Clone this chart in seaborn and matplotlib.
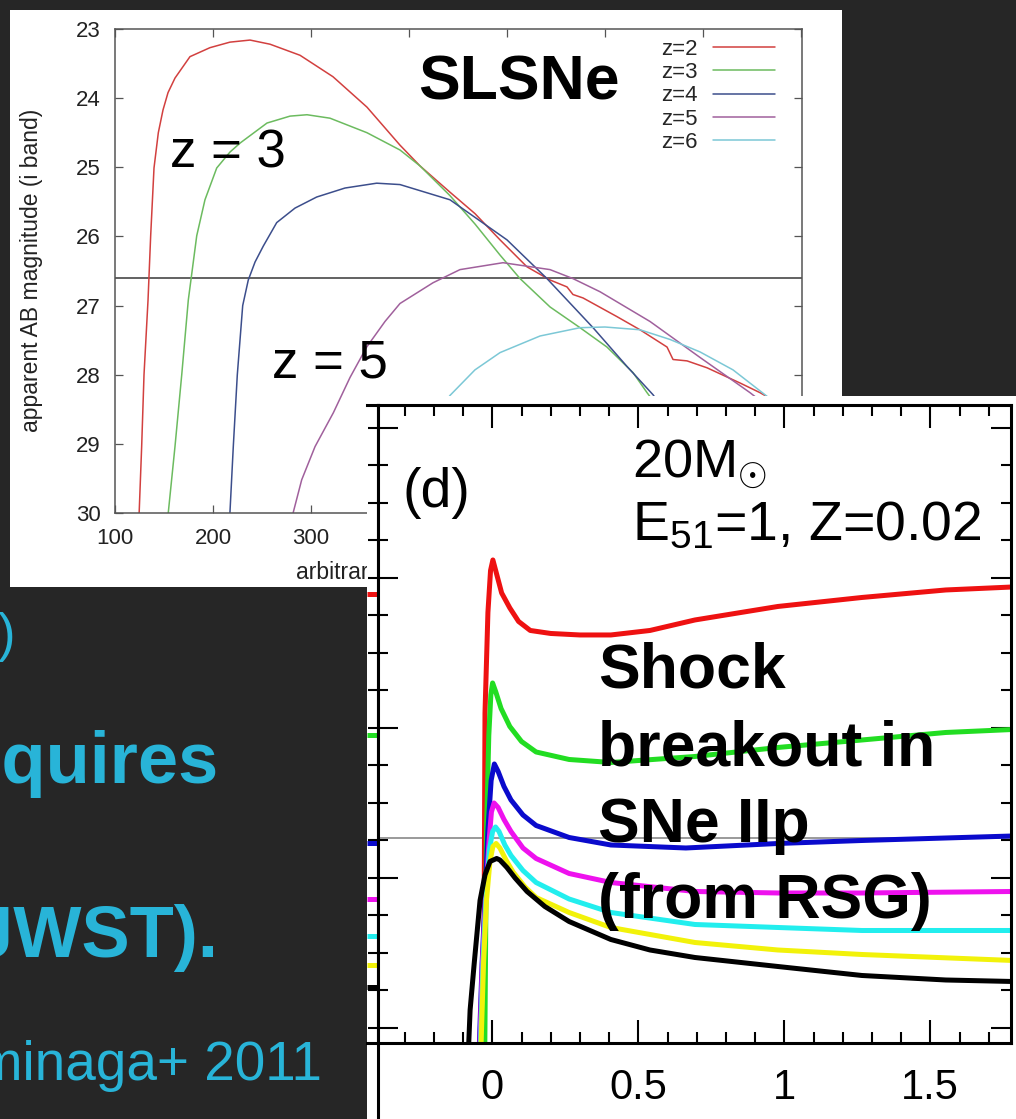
import matplotlib
matplotlib.use("Agg")
import matplotlib.pyplot as plt
from matplotlib.patches import Rectangle
from matplotlib.lines import Line2D
from matplotlib.ticker import MultipleLocator, FuncFormatter
import numpy as np
import pandas as pd
import seaborn as sns

sns.set_theme(style="white")
plt.rcParams["font.family"] = ["Liberation Sans", "DejaVu Sans"]
plt.rcParams["mathtext.fontset"] = "custom"
plt.rcParams["mathtext.rm"] = "Liberation Sans"
plt.rcParams["mathtext.it"] = "Liberation Sans:italic"
plt.rcParams["mathtext.bf"] = "Liberation Sans:bold"

W, H = 1016, 1119
BG = "#262626"
SLIDE_BLUE = "#28b4d8"

# ---------------- SLSN i-band light curves (apparent AB mag vs. time) -------
z_labels = ["z=2", "z=3", "z=4", "z=5", "z=6"]
z_colors = ["#d2403f", "#6cbb5f", "#3c4e8c", "#a0609c", "#7cc8d6"]

z2_t = [124.0, 127.2, 129.6, 133.7, 136.4, 139.8, 144.2, 149.0, 154.1, 161.2,
        176.5, 196.9, 217.3, 237.8, 258.2, 288.8, 322.4, 357.1, 390.8, 411.2,
        441.8, 467.3, 492.9, 520.4, 543.9, 561.2, 567.3, 577.6, 612.2, 635.7,
        663.3, 669.4, 683.7, 704.1, 737.8, 758.2, 788.8]
z2_mag = [30.24, 29.04, 28.00, 26.92, 25.99, 25.01, 24.50, 24.17, 23.92, 23.71,
          23.40, 23.27, 23.19, 23.16, 23.22, 23.38, 23.69, 24.13, 24.68, 24.98,
          25.36, 25.67, 26.05, 26.44, 26.63, 26.73, 26.84, 26.89, 27.16, 27.35,
          27.60, 27.78, 27.80, 27.90, 28.12, 28.26, 28.51]

z3_t = [153.1, 154.4, 161.2, 168.1, 174.8, 183.4, 191.8, 203.8, 217.3, 227.6,
        255.1, 278.6, 295.9, 319.4, 357.1, 390.8, 411.2, 441.8, 467.3, 492.9,
        513.3, 543.9, 574.5, 602.0, 628.6, 642.9, 656.1]
z3_mag = [30.24, 29.99, 29.04, 28.00, 26.92, 25.99, 25.47, 25.01, 24.78, 24.65,
          24.36, 24.26, 24.24, 24.29, 24.50, 24.75, 24.98, 25.41, 25.82, 26.27,
          26.61, 27.02, 27.32, 27.60, 27.97, 28.26, 28.51]

z4_t = [216.8, 217.3, 220.7, 224.8, 230.3, 236.0, 242.9, 251.3, 265.0, 283.7,
        305.8, 334.7, 367.0, 390.8, 441.8, 500.0, 540.8, 587.8, 622.4, 649.0,
        661.2]
z4_mag = [30.24, 29.99, 29.04, 28.00, 27.00, 26.63, 26.37, 26.14, 25.80, 25.59,
          25.43, 25.30, 25.23, 25.25, 25.47, 26.05, 26.61, 27.32, 27.88, 28.29,
          28.53]

z5_t = [281.1, 281.9, 290.5, 304.1, 322.8, 339.8, 356.8, 375.5, 390.8, 424.5,
        452.0, 495.9, 543.9, 567.3, 594.9, 645.9, 696.9, 748.0, 763.3]
z5_mag = [30.24, 29.99, 29.52, 29.04, 28.55, 28.04, 27.60, 27.23, 26.97, 26.67,
          26.48, 26.38, 26.48, 26.61, 26.80, 27.23, 27.75, 28.26, 28.43]

z6_t = [431.6, 441.8, 467.3, 492.9, 533.7, 574.5, 600.0, 635.7, 666.3, 696.9,
        730.6, 763.3, 788.8]
z6_mag = [28.51, 28.30, 27.93, 27.68, 27.44, 27.32, 27.31, 27.35, 27.49, 27.67,
          27.93, 28.29, 28.58]

slsn_limit = 26.6

# ---------------- shock breakout multicolour light curves (model 20 Msun) ----
bands = ["I", "R", "V", "B", "U", "NUV", "FUV"]
band_colors = ["#ee1111", "#22dd22", "#0a0acc", "#ee11ee", "#22eeee", "#f2f20a", "#000000"]

sb_t = {
    "I": [-0.030, -0.025, -0.015, -0.006, 0.002, 0.032, 0.060, 0.090, 0.130, 0.200,
          0.300, 0.406, 0.540, 0.694, 0.978, 1.266, 1.553, 1.783],
    "R": [-0.026, -0.020, -0.012, -0.005, 0.001, 0.012, 0.030, 0.060, 0.100, 0.150,
          0.263, 0.406, 0.694, 0.978, 1.266, 1.553, 1.783],
    "V": [-0.046, -0.035, -0.025, -0.015, -0.004, 0.007, 0.020, 0.040, 0.064, 0.105,
          0.150, 0.263, 0.406, 0.663, 0.978, 1.266, 1.783],
    "B": [-0.044, -0.034, -0.023, -0.011, -0.003, 0.006, 0.020, 0.040, 0.064, 0.105,
          0.150, 0.263, 0.406, 0.694, 0.978, 1.266, 1.783],
    "U": [-0.042, -0.032, -0.022, -0.010, 0.001, 0.011, 0.023, 0.043, 0.064, 0.105,
          0.150, 0.263, 0.406, 0.694, 0.978, 1.266, 1.783],
    "NUV": [-0.040, -0.030, -0.020, -0.008, 0.002, 0.013, 0.026, 0.047, 0.071, 0.112,
            0.150, 0.263, 0.406, 0.694, 0.978, 1.266, 1.783],
    "FUV": [-0.083, -0.076, -0.062, -0.042, -0.025, -0.008, 0.015, 0.026, 0.050, 0.078,
            0.119, 0.180, 0.263, 0.406, 0.540, 0.694, 0.978, 1.266, 1.553, 1.783],
}
sb_mag = {
    "I": [28.21, 25.90, 25.23, 24.95, 24.88, 25.10, 25.20, 25.29, 25.35, 25.37,
          25.38, 25.38, 25.35, 25.28, 25.19, 25.13, 25.08, 25.06],
    "R": [28.21, 26.70, 26.05, 25.78, 25.70, 25.76, 25.87, 25.99, 26.09, 26.16,
          26.21, 26.23, 26.19, 26.13, 26.08, 26.03, 26.01],
    "V": [28.21, 27.57, 27.15, 26.68, 26.35, 26.24, 26.29, 26.39, 26.48, 26.58,
          26.65, 26.73, 26.78, 26.80, 26.77, 26.75, 26.72],
    "B": [28.21, 27.57, 27.15, 26.75, 26.56, 26.50, 26.53, 26.61, 26.69, 26.80,
          26.87, 26.97, 27.03, 27.09, 27.10, 27.10, 27.09],
    "U": [28.21, 27.57, 27.15, 26.81, 26.69, 26.66, 26.69, 26.78, 26.85, 26.95,
          27.03, 27.14, 27.23, 27.31, 27.33, 27.35, 27.35],
    "NUV": [28.21, 27.57, 27.15, 26.89, 26.79, 26.77, 26.80, 26.88, 26.96, 27.06,
            27.13, 27.23, 27.33, 27.43, 27.48, 27.51, 27.55],
    "FUV": [28.21, 27.88, 27.57, 27.15, 26.98, 26.89, 26.87, 26.88, 26.93, 27.00,
            27.09, 27.19, 27.29, 27.41, 27.48, 27.53, 27.59, 27.65, 27.68, 27.69],
}
# late-time levels of the neighbouring panel (c), seen at its right edge
panel_c_levels = [25.11, 26.05, 26.77, 27.14, 27.39, 27.58, 27.73]
sb_limit = 26.733

# ---------------- tidy tables ---------------------------------------------
slsn_df = pd.concat([
    pd.DataFrame({"time": t, "mag": m, "z": lab})
    for lab, t, m in zip(z_labels, [z2_t, z3_t, z4_t, z5_t, z6_t],
                         [z2_mag, z3_mag, z4_mag, z5_mag, z6_mag])
], ignore_index=True)

sb_df = pd.concat([
    pd.DataFrame({"days": sb_t[b], "mag": sb_mag[b], "band": b}) for b in bands
], ignore_index=True)


def px_box(x0, y0, x1, y1):
    """Figure-fraction rectangle from pixel edges (origin top-left)."""
    return [x0 / W, 1 - y1 / H, (x1 - x0) / W, (y1 - y0) / H]


def fx(x):
    return x / W


def fy(y):
    return 1 - y / H


fig = plt.figure(figsize=(W / 100, H / 100), dpi=100, facecolor=BG)

# white card of the SLSN chart
fig.patches.append(Rectangle((fx(10), fy(587)), 832 / W, 577 / H,
                             transform=fig.transFigure, facecolor="white",
                             edgecolor="none", zorder=0.5))

# ---------------- SLSN panel ------------------------------------------------
ax1 = fig.add_axes(px_box(115, 29, 802, 513))
ax1.set_zorder(1)
ax1.set_facecolor("white")
sns.lineplot(data=slsn_df, x="time", y="mag", hue="z", hue_order=z_labels,
             palette=dict(zip(z_labels, z_colors)), estimator=None, sort=False,
             linewidth=1.1, ax=ax1)
ax1.axhline(slsn_limit, color="#555555", lw=1.3, zorder=1)
ax1.set_xlim(100, 801)
ax1.set_ylim(30, 23)
ax1.set_xticks(range(100, 801, 100))
ax1.set_yticks(range(23, 31))
ax1.tick_params(axis="both", direction="in", length=6, width=0.9, color="#555555",
                labelsize=16, labelcolor="#222222", top=True, right=True,
                bottom=True, left=True, pad=10.5)
for s in ax1.spines.values():
    s.set_color("#555555")
    s.set_linewidth(1.1)
ax1.set_ylabel("apparent AB magnitude (i band)", fontsize=16.5, color="#222222")
ax1.yaxis.set_label_coords(-0.1048, 0.502)
ax1.set_xlabel("arbitrary time [days]", fontsize=16.5, color="#222222")
ax1.xaxis.set_label_coords((296 - 115) / 687, (513 - 579) / 484)
ax1.xaxis.label.set_ha("left")
ax1.xaxis.label.set_va("baseline")

h, l = ax1.get_legend_handles_labels()
ax1.legend(h, l, loc="upper right", bbox_to_anchor=(fx(775), fy(39)),
           bbox_transform=fig.transFigure, frameon=False, markerfirst=False,
           fontsize=16, handlelength=2.8, handletextpad=0.7, labelspacing=0.1,
           borderpad=0, borderaxespad=0)

ax1.text(fx(418), fy(100), "SLSNe", transform=fig.transFigure, fontsize=45,
         fontweight="bold", color="black", ha="left", va="baseline")
ax1.text(fx(170), fy(167), "z = 3", transform=fig.transFigure, fontsize=38,
         color="black", ha="left", va="baseline")
ax1.text(fx(272), fy(377), "z = 5", transform=fig.transFigure, fontsize=38,
         color="black", ha="left", va="baseline")

# ---------------- shock breakout panel ---------------------------------------
fig.patches.append(Rectangle((fx(367), 0), 649 / W, 723 / H,
                             transform=fig.transFigure, facecolor="white",
                             edgecolor="none", zorder=2))

ax2 = fig.add_axes(px_box(378, 405, 1011, 1043))
ax2.set_zorder(3)
ax2.set_facecolor("white")
sns.lineplot(data=sb_df, x="days", y="mag", hue="band", hue_order=bands,
             palette=dict(zip(bands, band_colors)), estimator=None, sort=False,
             linewidth=3.6, legend=False, ax=ax2)
ax2.axhline(sb_limit, color="#9a9a9a", lw=1.4, zorder=1.5)
ax2.set_xlim((378 - 492.3) / 292, (1011 - 492.3) / 292)
ax2.set_ylim(28.1, 23.847)
ax2.set_xlabel("")
ax2.set_ylabel("")
ax2.xaxis.set_major_locator(MultipleLocator(0.5))
ax2.xaxis.set_minor_locator(MultipleLocator(0.1))
ax2.xaxis.set_major_formatter(FuncFormatter(lambda v, p: f"{v:g}"))
ax2.yaxis.set_major_locator(MultipleLocator(1))
ax2.yaxis.set_minor_locator(MultipleLocator(0.25))
ax2.tick_params(axis="x", which="major", direction="in", length=16.5, width=1.5,
                color="black", top=True, bottom=True, labelsize=30,
                labelcolor="black", pad=18)
ax2.tick_params(axis="x", which="minor", direction="in", length=8, width=1.5,
                color="black", top=True, bottom=True)
ax2.tick_params(axis="y", which="major", direction="in", length=14.4, width=1.5,
                color="black", left=True, right=True, labelleft=False)
ax2.tick_params(axis="y", which="minor", direction="in", length=7.2, width=1.5,
                color="black", left=True, right=True)
for s in ax2.spines.values():
    s.set_color("black")
    s.set_linewidth(2.2)

# right edge strip of panel (c)
ax_c = fig.add_axes(px_box(367, 405, 378, 1043), sharey=ax2)
ax_c.set_zorder(2.5)
ax_c.set_facecolor("white")
ax_c.set_xlim(0, 1)
ax_c.hlines(panel_c_levels, 0, 1, colors=band_colors, lw=3.6)
ax_c.tick_params(axis="y", which="both", direction="in", length=7.2, width=1.5,
                 color="black", left=False, right=True, labelleft=False,
                 labelright=False)
ax_c.tick_params(axis="x", which="both", bottom=False, top=False,
                 labelbottom=False)
ax_c.spines["left"].set_visible(False)
for k in ("top", "bottom", "right"):
    ax_c.spines[k].set_color("black")
    ax_c.spines[k].set_linewidth(2.2)
fig.add_artist(Line2D([fx(377.5), fx(377.5)], [0, fy(1043)], color="black",
                      lw=2.2, transform=fig.transFigure, zorder=3))

ax2.text(fx(403), fy(493), "(d)", transform=fig.transFigure, fontsize=40,
         color="black", ha="left", va="center")
ax2.text(fx(632), fy(477), r"20M$_{\odot}$", transform=fig.transFigure,
         fontsize=39, color="black", ha="left", va="baseline")
ax2.text(fx(632), fy(540), r"E$_{51}$=1, Z=0.02", transform=fig.transFigure,
         fontsize=40, color="black", ha="left", va="baseline")
for line, base in zip(["Shock", "breakout in", "SNe IIp", "(from RSG)"],
                      [688, 765, 842, 918]):
    ax2.text(fx(598), fy(base), line, transform=fig.transFigure, fontsize=45,
             fontweight="bold", color="black", ha="left", va="baseline",
             zorder=5)

# ---------------- slide text ------------------------------------------------
fig.text(fx(15), fy(637), ")", fontsize=38, color=SLIDE_BLUE, ha="right",
         va="center", zorder=5)
fig.text(fx(218), fy(783), "requires", fontsize=52, fontweight="bold",
         color=SLIDE_BLUE, ha="right", va="baseline", zorder=5)
fig.text(fx(218), fy(957), "(JWST).", fontsize=52, fontweight="bold",
         color=SLIDE_BLUE, ha="right", va="baseline", zorder=5)
fig.text(fx(322), fy(1080), "Tominaga+ 2011", fontsize=39.5, color=SLIDE_BLUE,
         ha="right", va="baseline", zorder=5)

fig.savefig("out.png", dpi=100, facecolor=BG)
